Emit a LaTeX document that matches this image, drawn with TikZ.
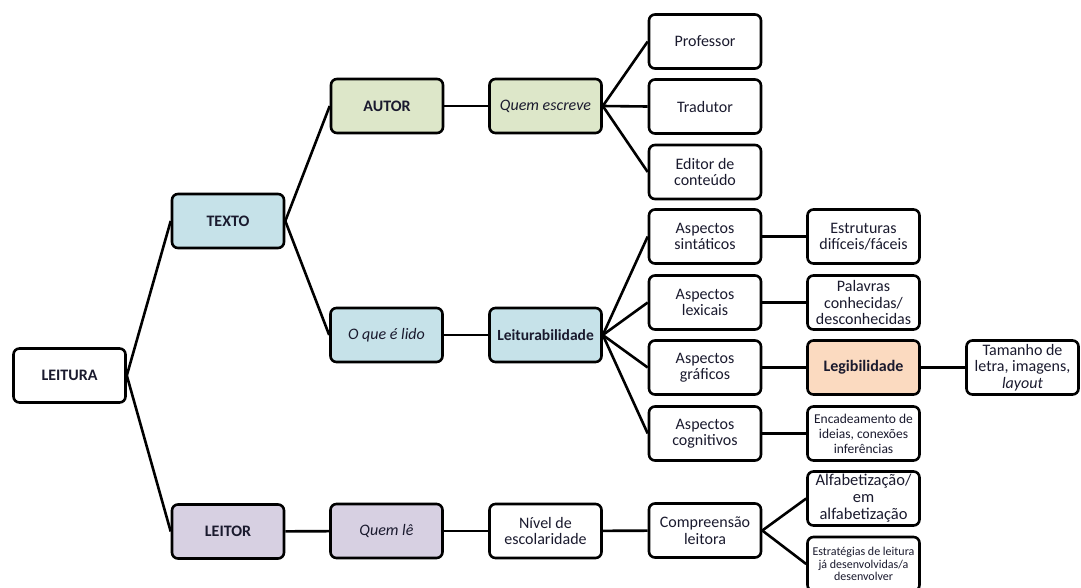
\documentclass[tikz,border=0pt]{standalone}
\usepackage{fontspec}
\setmainfont{Carlito}
\definecolor{bluefill}{HTML}{C6E2E9}
\definecolor{greenfill}{HTML}{DDE7C9}
\definecolor{purplefill}{HTML}{D7D0E2}
\definecolor{orangefill}{HTML}{FBDAC0}
\definecolor{txt}{HTML}{1A1A2E}
\begin{document}
\begin{tikzpicture}[x=1pt,y=-1pt,
  box/.style={draw=black, line width=2.6pt, rounded corners=6pt, fill=white,
    minimum width=112pt, minimum height=54pt, align=center, inner sep=1pt,
    text=txt, font=\fontsize{16}{16.5}\selectfont},
  bbox/.style={box, font=\fontsize{16}{16.5}\selectfont\bfseries},
  ibox/.style={box, font=\fontsize{16}{16.5}\selectfont\itshape},
  link/.style={line width=2.6pt, draw=black}]
\useasboundingbox (0,0) rectangle (1081,587);
\fill[white] (0,0) rectangle (1081,587);

\node[bbox] (leitura) at (69.5,375.5) {LEITURA};
\node[bbox, fill=bluefill] (texto) at (228,221) {TEXTO};
\node[bbox, fill=purplefill] (leitor) at (228,531.5) {LEITOR};
\node[bbox, fill=greenfill] (autor) at (387,106) {AUTOR};
\node[ibox, fill=greenfill] (quemesc) at (545.5,106) {Quem escreve};
\node[ibox, fill=bluefill] (oque) at (386.5,335) {O que é lido};
\node[bbox, fill=bluefill, font=\fontsize{15.5}{16}\selectfont\bfseries] (leitur) at (545.5,335) {Leiturabilidade};
\node[ibox, fill=purplefill] (quemle) at (386.5,531) {Quem lê};
\node[box] (nivel) at (545.5,531) {Nível de\\escolaridade};

\node[box] (prof) at (705,41.5) {Professor};
\node[box] (trad) at (705,106.5) {Tradutor};
\node[box] (editor) at (705,172) {Editor de\\conteúdo};
\node[box] (sint) at (705,236.5) {Aspectos\\sintáticos};
\node[box] (lex) at (705,302.5) {Aspectos\\lexicais};
\node[box] (graf) at (705,367.5) {Aspectos\\gráficos};
\node[box] (cogn) at (705,433.5) {Aspectos\\cognitivos};
\node[box] (compr) at (705,530.5) {Compreensão\\leitora};

\node[box] (estr) at (863.5,236.5) {Estruturas\\difíceis/fáceis};
\node[box] (palav) at (863.5,302.5) {Palavras\\conhecidas/\\desconhecidas};
\node[bbox, fill=orangefill] (legib) at (863.5,367.5) {Legibilidade};
\node[box, font=\fontsize{13.5}{15}\selectfont] (encad) at (863.5,433.5) {Encadeamento de\\ideias, conexões\\inferências};
\node[box, font=\fontsize{16.5}{17}\selectfont] (alfab) at (863.5,498.5) {Alfabetização/\\em\\alfabetização};
\node[box, font=\fontsize{12}{12.5}\selectfont] (estrat) at (863.5,564) {Estratégias de leitura\\já desenvolvidas/a\\desenvolver};
\node[box] (taman) at (1022.5,367.5) {Tamanho de\\letra, imagens,\\\textit{layout}};

\draw[link] (leitura.east) -- (texto.west);
\draw[link] (leitura.east) -- (leitor.west);
\draw[link] (texto.east) -- (autor.west);
\draw[link] (texto.east) -- (oque.west);
\draw[link] (autor) -- (quemesc);
\draw[link] (oque) -- (leitur);
\draw[link] (leitor) -- (quemle);
\draw[link] (quemle) -- (nivel);
\draw[link] (nivel) -- (compr);
\draw[link] (quemesc.east) -- (prof.west);
\draw[link] (quemesc.east) -- (trad.west);
\draw[link] (quemesc.east) -- (editor.west);
\draw[link] (leitur.east) -- (sint.west);
\draw[link] (leitur.east) -- (lex.west);
\draw[link] (leitur.east) -- (graf.west);
\draw[link] (leitur.east) -- (cogn.west);
\draw[link] (sint) -- (estr);
\draw[link] (lex) -- (palav);
\draw[link] (graf) -- (legib);
\draw[link] (cogn) -- (encad);
\draw[link] (legib) -- (taman);
\draw[link] (compr.east) -- (alfab.west);
\draw[link] (compr.east) -- (estrat.west);
\end{tikzpicture}
\end{document}
